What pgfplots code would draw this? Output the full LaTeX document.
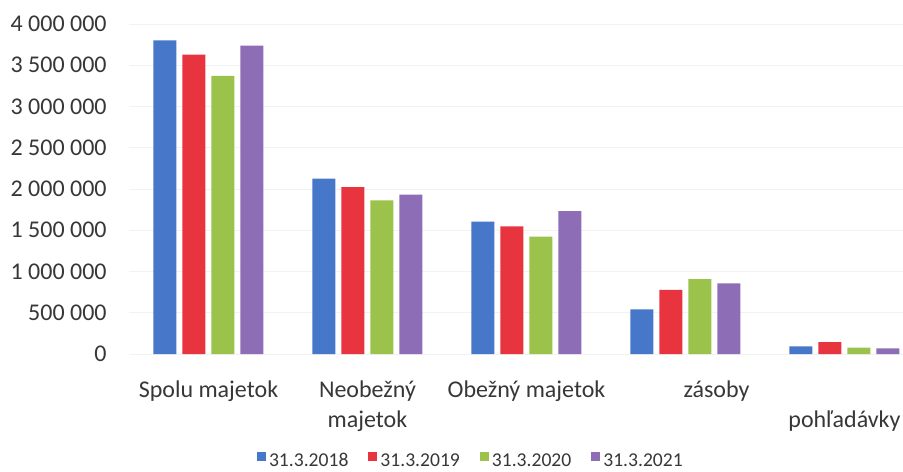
\documentclass[border=0pt]{standalone}
\usepackage{pgfplots}
\pgfplotsset{compat=1.18}
\usepackage{fontspec}
\setmainfont{Carlito}
\definecolor{cblue}{RGB}{70,119,200}
\definecolor{cred}{RGB}{232,52,63}
\definecolor{cgreen}{RGB}{155,195,75}
\definecolor{cpurple}{RGB}{142,109,183}
\definecolor{ctext}{RGB}{55,55,55}
\begin{document}
\begin{tikzpicture}
\begin{axis}[
  at={(0pt,0pt)}, anchor=south west,
  scale only axis,
  width=387pt, height=165pt,
  xmin=-0.5, xmax=4.368,
  ymin=0, ymax=4000000,
  ybar=3pt, bar width=11.5pt,
  axis line style={draw=none},
  tick style={draw=none},
  ymajorgrids, grid style={gray!10, line width=0.5pt},
  scaled y ticks=false,
  ytick={0,500000,1000000,1500000,2000000,2500000,3000000,3500000,4000000},
  yticklabels={0,500 000,1 000 000,1 500 000,2 000 000,2 500 000,3 000 000,3 500 000,4 000 000},
  yticklabel style={anchor=east, inner sep=0pt, xshift=-11pt, font=\fontsize{12}{15}\selectfont, text=ctext},
  xtick={0,1,2,3,4},
  xticklabels={{Spolu majetok\\\mbox{}}, {Neobežný\\majetok}, {Obežný majetok\\\mbox{}}, {\hspace*{31pt}zásoby\\\mbox{}}, {\mbox{}\\pohľadávky}},
  xticklabel style={align=center, anchor=base, inner sep=0pt, yshift=-32.5pt, font=\fontsize{12}{15}\selectfont, text=ctext},
  legend columns=4,
  legend style={draw=none, fill=none, inner sep=0pt, outer sep=0pt,
    at={(0.1654,-0.3242)}, anchor=west,
    font=\fontsize{9.8}{12}\selectfont, text=ctext,
    nodes={inner sep=0pt},
    /tikz/every odd column/.append style={column sep=1.5pt},
    /tikz/every even column/.append style={column sep=10pt}},
]
\addplot[fill=cblue, draw=none, legend image code/.code={\fill[cblue] (0pt,0pt) rectangle (4.5pt,4.5pt);}]
  coordinates {(0,3802000) (1,2125000) (2,1604000) (3,541000) (4,93000)};
\addplot[fill=cred, draw=none, legend image code/.code={\fill[cred] (0pt,0pt) rectangle (4.5pt,4.5pt);}]
  coordinates {(0,3628000) (1,2024000) (2,1547000) (3,776000) (4,145000)};
\addplot[fill=cgreen, draw=none, legend image code/.code={\fill[cgreen] (0pt,0pt) rectangle (4.5pt,4.5pt);}]
  coordinates {(0,3370000) (1,1863000) (2,1422000) (3,909000) (4,76000)};
\addplot[fill=cpurple, draw=none, legend image code/.code={\fill[cpurple] (0pt,0pt) rectangle (4.5pt,4.5pt);}]
  coordinates {(0,3737000) (1,1931000) (2,1733000) (3,857000) (4,69000)};
\legend{31.3.2018, 31.3.2019, 31.3.2020, 31.3.2021}
\end{axis}
\pgfresetboundingbox
\path[use as bounding box] (-64.5pt,-58.5pt) rectangle (387pt,177pt);
\end{tikzpicture}
\end{document}
